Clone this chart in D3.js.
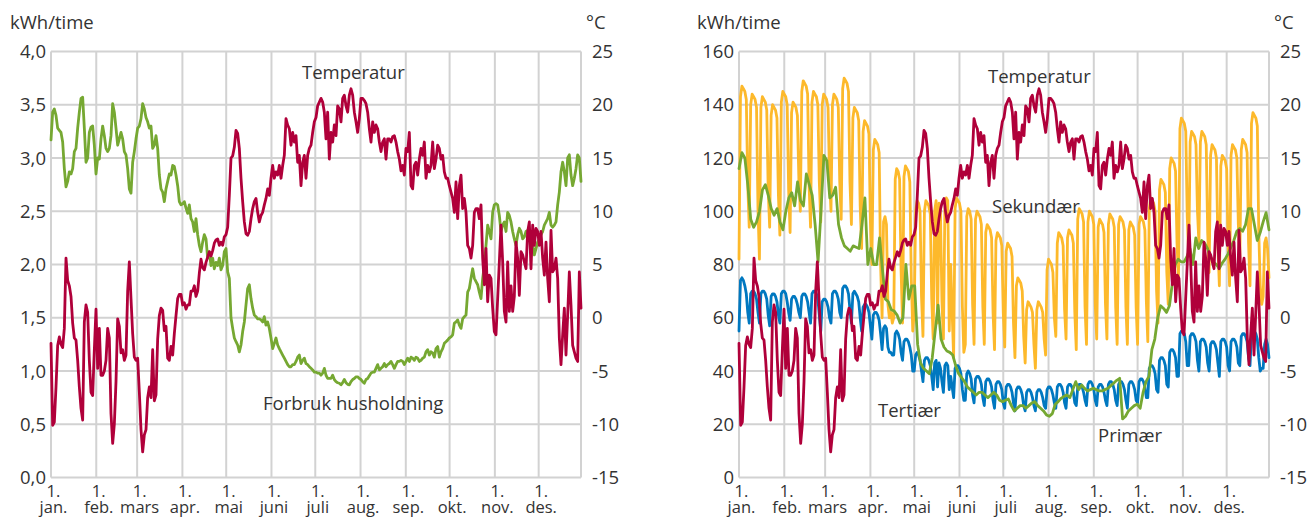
<!DOCTYPE html>
<html><head><meta charset="utf-8">
<script src="https://cdn.jsdelivr.net/npm/d3@7"></script>
<style>
html,body{margin:0;padding:0;background:#fff;}
svg text{font-family:"Open Sans","Noto Sans",sans-serif;fill:#333;}
</style></head>
<body><svg id="c" width="1309" height="517"></svg>
<script>
// ---------- categories / ticks ----------
const monthLabels = ["jan.","feb.","mars","apr.","mai","juni","juli","aug.","sep.","okt.","nov.","des."];
const monthStartDays = [0,31,59,90,120,151,181,212,243,273,304,334];
const lastDay = 363;
const leftKwhTicks = [0,0.5,1,1.5,2,2.5,3,3.5,4];
const rightKwhTicks = [0,20,40,60,80,100,120,140,160];
const tempTicks = [-15,-10,-5,0,5,10,15,20,25];

// ---------- series (evenly spaced from 1 jan to end of year) ----------
const temperatur = [
-2.4,-10.1,-9.8,-6.5,-2.6,-1.8,-2.5,-2.8,-1.0,5.6,
3.5,3.0,2.0,-0.5,-1.9,-2.1,-4,-6.5,-8.5,-9.6,
-0.4,1.2,0.5,-4,-7.0,-7.3,-3,0.8,-4.75,-1.0,
-5.4,-5.4,-5.0,-4.0,-1.0,-1.9,-9,-11.8,-10,-6,
-0.1,-0.8,-3.3,-3.0,-4.0,-3.5,2.5,5.25,1.8,-1.5,
-3.7,-4.0,-3.8,-7.0,-10.5,-12.6,-11.0,-10.5,-7.5,-6.5,
-7.5,-3.0,-7.8,-7.25,-2.0,0.2,0.9,0.7,-1.2,-0.8,
-3.8,-4.0,-2.7,-3.5,-1.5,0.2,1.8,2.2,2.2,1.2,
1.4,0.8,1.2,1.2,2.5,2.5,3.0,2.0,2.5,4.2,
5.5,4.7,4.5,5.2,5.7,6.2,5.8,6.3,7.0,7.3,
7.4,6.8,7.1,6.8,7.6,7.8,8.5,11.5,15.0,15.2,
16.0,
17.6,17.3,15.9,13.1,10.9,9.0,7.9,7.75,8.1,9.3,
10.25,10.9,11.2,9.9,9.0,9.6,9.9,10.6,11.2,12.1,
11.5,13.1,14.3,13.1,13.7,13.4,14.3,13.1,14.3,15.25,
18.7,18.1,17.75,16.2,17.4,16.5,17.1,14.6,15.25,12.4,
14.6,15.25,13.1,15.25,15.9,16.2,17.4,18.4,18.8,19.9,
20.25,20.6,20.25,19.3,16.8,19.3,14.9,17.4,16.5,18.1,
17.1,19.9,19.6,18.4,20.6,20.9,19.9,19.3,20.9,21.5,
20.9,19.3,18.4,17.4,18.7,20.6,20.6,20.4,20.1,19.3,
17.75,16.5,18.4,17.4,18.1,17.75,16.5,15.6,16.5,16.8,
14.9,16.8,16.8,16.5,17.0,17.1,16.5,15.6,14.9,13.8,
14.3,
13.4,15.9,15.6,17.4,12.4,12.1,14.3,14.6,13.4,14.9,
15.9,15.25,16.5,13.1,14.3,13.7,14.3,16.5,14.0,14.9,
16.2,15.9,14.9,15.25,13.7,13.1,13.1,12.4,11.8,11.2,
9.9,12.75,9.3,12.4,13.4,10.25,11.2,9.9,6.8,6.5,
5.6,6.8,9.9,10.25,10.25,9.3,10.6,5.6,3.1,6.5,
1.5,4.0,3.7,0.9,-1.3,-1.6,1.8,5.25,8.7,5.25,
0.6,-0.4,5.25,0.6,3,0.6,2,7.1,5.6,2.1,
6.2,5.9,5.25,4.6,8.1,9.0,4.6,8.7,6.8,8.4,
8.1,6.8,8.1,5.6,4.0,7.1,3.7,1.5,8.2,4.3,
4.6,5.6,3.7,-1.9,-4.4,-1.6,0.9,-3.5,0.25,4.3,
1.2,-2.6,-3.2,-3.8,-4.1,4.3,0.9
];

const husholdning = [
3.17,3.43,3.46,3.40,3.28,3.26,3.24,3.15,2.90,2.73,
2.78,2.87,2.85,2.90,3.06,3.09,3.28,3.43,3.56,3.57,
3.28,2.96,3.00,3.24,3.29,3.30,3.12,2.85,3.00,2.99,
3.18,3.30,3.21,3.09,3.06,3.09,3.21,3.51,3.43,3.28,
3.12,3.18,3.24,3.18,3.06,3.03,2.90,2.71,2.67,2.96,
3.06,3.18,3.28,3.30,3.37,3.51,3.46,3.38,3.34,3.28,
3.30,3.09,3.12,3.21,3.09,2.84,2.71,2.68,2.59,2.71,
2.78,2.85,2.84,2.93,2.92,2.84,2.74,2.59,2.56,2.57,
2.59,2.53,2.48,2.56,2.43,2.40,2.31,2.43,2.28,2.18,
2.12,2.21,2.28,2.24,2.06,2.12,1.99,2.06,1.96,2.02,
1.99,2.06,1.95,1.99,2.12,2.15,1.93,1.87,1.50,1.40,
1.31,
1.275,1.244,1.18,1.244,1.37,1.46,1.62,1.775,1.81,1.68,
1.59,1.525,1.51,1.49,1.49,1.48,1.46,1.51,1.43,1.46,
1.40,1.31,1.21,1.26,1.31,1.244,1.21,1.18,1.15,1.12,
1.09,1.06,1.04,1.04,1.06,1.06,1.09,1.13,1.15,1.07,
1.10,1.12,1.07,1.06,1.04,1.025,1.01,0.99,0.99,0.98,
0.98,0.96,0.98,1.025,0.96,0.93,0.93,0.93,0.96,0.92,
0.90,0.89,0.885,0.87,0.89,0.92,0.89,0.875,0.87,0.90,
0.92,0.93,0.945,0.945,0.93,0.92,0.90,0.885,0.92,0.93,
0.955,0.98,0.99,0.99,1.025,1.06,1.01,1.025,1.04,1.07,
1.04,1.06,1.07,1.09,1.06,1.025,1.06,1.09,1.09,1.10,
1.09,
1.06,1.09,1.12,1.09,1.13,1.12,1.10,1.13,1.12,1.09,
1.10,1.12,1.13,1.18,1.20,1.15,1.18,1.17,1.13,1.21,
1.23,1.13,1.18,1.21,1.26,1.275,1.29,1.31,1.32,1.34,
1.45,1.46,1.48,1.43,1.40,1.49,1.51,1.525,1.74,1.775,
1.87,1.96,1.87,1.84,1.81,1.74,1.68,1.87,1.99,2.18,
2.37,2.31,2.24,2.49,2.56,2.57,2.56,2.46,2.31,2.37,
2.40,2.31,2.49,2.46,2.40,2.31,2.24,2.18,2.28,2.34,
2.31,2.24,2.26,2.31,2.32,2.24,2.21,2.18,2.09,2.15,
2.21,2.24,2.28,2.31,2.37,2.40,2.43,2.49,2.37,2.35,
2.37,2.40,2.56,2.68,2.87,2.96,2.87,2.74,3.00,3.03,
2.84,2.74,2.81,2.90,3.03,3.00,2.78
];

const sekundaer = [
82,143,147,146,145,142,110,
94,140,144,143,142,139,101,
82,139,143,142,141,138,108,
94,136,140,139,138,135,106,
91,141,145,144,143,140,108,
92,137,141,140,139,136,112,
100,145,149,148,147,144,110,
94,141,145,144,143,140,111,
96,140,144,143,142,139,113,
100,140,144,143,142,139,111,
97,146,150,149,148,145,111,
95,135,139,138,137,134,102,
86,130,134,133,132,129,96,
80,123,127,126,125,122,80,
60,96,98,95,65,60,62,
58,60,112,116,115,112,78,
58,113,117,116,115,111,75,
55,62,100,104,103,100,68,
53,100,104,103,102,99,67,
52,100,104,58,103,99,66,
52,101,105,104,55,80,62,
45,101,105,104,103,100,64,
47,50,98,101,100,97,65,
50,97,100,99,98,95,64,
50,92,95,94,93,90,62,
48,89,92,91,90,87,62,
49,85,88,87,86,83,58,
45,72,75,74,73,70,53,
43,63,66,65,64,62,50,
41,63,66,65,64,62,52,
46,78,82,81,80,77,60,
53,88,92,91,90,87,63,
52,90,93,92,91,88,62,
48,97,101,100,99,96,64,
50,96,100,99,98,95,65,
52,94,97,96,95,92,65,
52,95,99,98,97,94,64,
50,95,98,97,96,93,64,
50,93,96,95,94,91,64,
50,95,98,97,96,93,66,
51,101,105,104,103,100,70,
58,108,112,111,110,107,77,
65,116,120,119,118,115,88,
75,131,135,134,133,130,98,
83,126,130,129,128,125,100,
88,126,130,129,128,125,92,
77,121,125,124,123,120,87,
72,117,121,120,119,116,87,
72,121,125,124,123,120,95,
82,123,127,126,125,122,88,
72,133,137,136,135,132,92,
72,65,68,88,90,86,75
];

const tertiaer = [
55,74,75,74,72,69,62,
58,69,70,70,69,67,62,
58,69,70,70,69,67,61,
57,68,69,69,68,66,61,
58,69,70,70,69,66,62,
59,67,68,68,67,65,62,
60,68,69,69,68,66,62,
58,69,70,70,69,67,61,
55,66,67,67,66,64,60,
58,69,70,70,69,67,62,
60,71,72,72,71,69,63,
58,69,70,69,68,66,60,
55,64,65,65,64,62,57,
52,61,62,62,61,59,54,
48,56,57,56,49,47,47,
46,46,54,55,54,52,47,
44,51,52,52,51,49,46,
40,40,46,47,46,44,40,
36,44,45,45,44,42,38,
33,43,44,34,43,41,36,
32,42,43,42,33,38,34,
30,41,42,42,41,39,33,
29,29,39,40,39,37,31,
28,37,38,38,37,35,30,
27,36,37,37,36,34,29,
26,35,36,36,35,33,28,
26,34,35,35,34,32,28,
25,33,34,34,33,31,27,
25,32,33,33,32,30,27,
25,32,33,33,32,30,27,
26,33,34,34,33,31,28,
26,34,35,35,34,32,28,
26,34,35,35,34,32,28,
27,34,35,35,34,32,29,
27,35,36,36,35,33,29,
27,34,35,35,34,32,29,
27,35,36,36,35,33,29,
27,35,36,36,35,33,29,
26,35,36,36,35,33,29,
28,36,37,37,36,34,30,
30,41,42,42,41,39,33,
32,44,45,45,44,42,35,
34,47,48,48,47,45,38,
38,54,55,55,54,51,42,
42,53,54,54,53,51,44,
40,51,52,52,51,49,43,
40,50,51,51,50,48,43,
38,51,52,52,51,49,42,
40,51,52,52,51,49,43,
42,53,54,54,53,51,45,
42,54,55,55,54,52,45,
40,41,41,50,52,50,45
];

const primaer = [
116,122,120,110,97,94,96,100,108,110,
106,101,98.5,101,96,93,100,105,107,102,
111,104,102,114,110,106,95,81,100,121,
119,105,106,109,95,90,87,86,85,87,
86.5,86,95,105,80,86,80,80,90,78,
67,66,63,62.5,61,58,60,80,67,72,
72,50,43,41,40,39,45,55,64.75,52,
49,47.5,47,46,42,39,37.5,36,34,33,
32,31,32,32,31,30,31,32,31,29,
28.5,29,29.5,27,25,26,27,27,26,27,
28,28.5,27,26,25,23.5,23,24,27.5,28.5,
29.75,30.5,31,30,33,36,33,34.75,33.5,32.5,
33,33.5,33,32.5,32.5,33,33.5,34.5,35.5,36.5,
37.25,22,23,25,26,27,27.5,26,32,36,
38,48,52,60,64.5,63.5,62,64.5,73,80,
82,81,81,83,86,80,90,86,89,88,
86,83,81,80,78.5,80.5,82,84,86.5,89,
92.5,93.5,92.5,95,101,101,95,89,92,96,
99.5,93
];

// ---------- drawing ----------
const COL = {green:"#76a832", red:"#b0003a", orange:"#fdb92b", blue:"#0078c0", grid:"#d2d2d2"};
const svg = d3.select("#c");
const plotTop = 51.5, plotBottom = 477.5;
const FS = 18.5;

function pts(vals){ const step = lastDay/(vals.length-1); return vals.map((v,i)=>[i*step, v]); }

function panel(o){
  const g = svg.append("g");
  const x = d3.scaleLinear().domain([0,lastDay]).range([o.x0,o.x1]);
  const yL = d3.scaleLinear().domain(o.leftDomain).range([plotBottom,plotTop]);
  const yR = d3.scaleLinear().domain([-15,25]).range([plotBottom,plotTop]);
  // grid
  g.selectAll(".hg").data(o.leftTicks).join("line")
    .attr("x1",o.x0).attr("x2",o.x1).attr("y1",d=>yL(d)).attr("y2",d=>yL(d))
    .attr("stroke",COL.grid).attr("stroke-width",2);
  g.selectAll(".vg").data(monthStartDays.concat([lastDay])).join("line")
    .attr("x1",d=>x(d)).attr("x2",d=>x(d)).attr("y1",plotTop).attr("y2",plotBottom)
    .attr("stroke",COL.grid).attr("stroke-width",2);
  // left ticks
  g.selectAll(".lt").data(o.leftTicks).join("text")
    .attr("x",o.x0-5).attr("y",d=>yL(d)+6.5).attr("text-anchor","end")
    .attr("font-size",FS).text(o.leftFmt);
  // right ticks
  g.selectAll(".rt").data(tempTicks).join("text")
    .attr("x",o.x1+11).attr("y",d=>yR(d)+6.5).attr("text-anchor","start")
    .attr("font-size",FS).text(d=>String(d));
  // units
  g.append("text").attr("x",o.unitX).attr("y",29).attr("font-size",FS).text("kWh/time");
  g.append("text").attr("x",o.x1+5).attr("y",29).attr("font-size",FS).text("°C");
  // month labels
  const ml = g.selectAll(".ml").data(monthStartDays).join("g");
  ml.append("text").attr("x",d=>x(d)+2.5).attr("y",497).attr("text-anchor","middle")
    .attr("font-size",16.5).text("1.");
  ml.append("text").attr("x",d=>x(d)+2.5).attr("y",513).attr("text-anchor","middle")
    .attr("font-size",16.5).text((d,i)=>monthLabels[i]);
  // series
  o.series.forEach(s=>{
    const yy = s.temp ? yR : yL;
    g.append("path").datum(pts(s.vals))
      .attr("d", d3.line().x(d=>x(d[0])).y(d=>yy(d[1])))
      .attr("fill","none").attr("stroke",s.color).attr("stroke-width",2.8)
      .attr("stroke-linejoin","round").attr("stroke-linecap","round");
  });
  // annotations
  o.labels.forEach(l=>{
    g.append("text").attr("x",l.x).attr("y",l.y).attr("font-size",FS).text(l.t);
  });
}

panel({
  x0:51, x1:581, unitX:10, leftDomain:[0,4], leftTicks:leftKwhTicks,
  leftFmt:d=>d.toFixed(1).replace(".",","),
  series:[{vals:husholdning,color:COL.green},{vals:temperatur,color:COL.red,temp:true}],
  labels:[{t:"Temperatur",x:302,y:79},{t:"Forbruk husholdning",x:263,y:410}]
});
panel({
  x0:739, x1:1269, unitX:697, leftDomain:[0,160], leftTicks:rightKwhTicks,
  leftFmt:d=>String(d),
  series:[{vals:sekundaer,color:COL.orange},{vals:tertiaer,color:COL.blue},
          {vals:primaer,color:COL.green},{vals:temperatur,color:COL.red,temp:true}],
  labels:[{t:"Temperatur",x:988,y:83},{t:"Sekundær",x:992,y:213},
          {t:"Tertiær",x:878,y:417},{t:"Primær",x:1098,y:442}]
});
</script></body></html>
